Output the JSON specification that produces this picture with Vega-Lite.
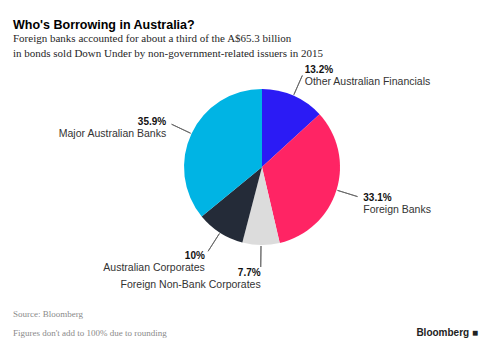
{
  "$schema": "https://vega.github.io/schema/vega-lite/v6.json",
  "width": 156,
  "height": 156,
  "autosize": {"type": "none"},
  "padding": {"left": 184, "top": 89, "right": 148, "bottom": 107},
  "background": "white",
  "config": {"view": {"stroke": null}},
  "title": {
    "text": "Who's Borrowing in Australia?",
    "subtitle": ["Foreign banks accounted for about a third of the A$65.3 billion", "in bonds sold Down Under by non-government-related issuers in 2015"],
    "anchor": "start",
    "frame": "group",
    "dx": -171,
    "offset": 6,
    "font": "Liberation Sans",
    "fontSize": 12.5,
    "fontWeight": "bold",
    "color": "#000000",
    "subtitleFont": "Liberation Serif",
    "subtitleFontSize": 11,
    "subtitleColor": "#262626",
    "subtitlePadding": 1,
    "subtitleLineHeight": 15.5
  },
  "datasets": {
    "shares": [
      {"issuer": "Other Australian Financials", "share": 0.132, "rank": 1},
      {"issuer": "Foreign Banks", "share": 0.331, "rank": 2},
      {"issuer": "Foreign Non-Bank Corporates", "share": 0.077, "rank": 3},
      {"issuer": "Australian Corporates", "share": 0.10, "rank": 4},
      {"issuer": "Major Australian Banks", "share": 0.359, "rank": 5}
    ],
    "source": [{"note": "Source: Bloomberg"}],
    "footnote": [{"note": "Figures don't add to 100% due to rounding"}],
    "logo": [{"note": "Bloomberg ■"}]
  },
  "layer": [
    {
      "data": {"name": "shares"},
      "encoding": {
        "theta": {"field": "share", "type": "quantitative", "stack": true},
        "order": {"field": "rank", "type": "quantitative"}
      },
      "layer": [
        {
          "mark": {"type": "arc"},
          "encoding": {
            "color": {
              "field": "issuer",
              "type": "nominal",
              "scale": {
                "domain": ["Other Australian Financials", "Foreign Banks", "Foreign Non-Bank Corporates", "Australian Corporates", "Major Australian Banks"],
                "range": ["#2b1bf5", "#ff2464", "#dcdcdc", "#242b38", "#00b4e4"]
              },
              "legend": null
            }
          }
        },
        {
          "mark": {"type": "arc", "radius": 100, "radius2": 79, "padAngle": 3.14, "filled": false, "stroke": "#666666", "strokeWidth": 0.9}
        },
        {
          "mark": {
            "type": "text",
            "radius": 106,
            "font": "Liberation Sans",
            "fontWeight": "bold",
            "fontSize": 10,
            "fill": "#111111",
            "baseline": "middle",
            "align": {"expr": "datum.share_start + datum.share_end < 0.999 ? 'left' : 'right'"}
          },
          "encoding": {"text": {"field": "share", "type": "quantitative", "format": ".1~%"}}
        },
        {
          "mark": {
            "type": "text",
            "radius": 106,
            "dy": 12,
            "font": "Liberation Sans",
            "fontSize": 10.5,
            "fill": "#333333",
            "baseline": "middle",
            "align": {"expr": "datum.share_start + datum.share_end < 0.999 ? 'left' : 'right'"}
          },
          "encoding": {"text": {"field": "issuer", "type": "nominal"}}
        }
      ]
    },
    {
      "data": {"name": "source"},
      "mark": {"type": "text", "align": "left", "baseline": "alphabetic", "font": "Liberation Serif", "fontSize": 9, "fill": "#8a8a8a"},
      "encoding": {"text": {"field": "note"}, "x": {"value": -171}, "y": {"value": 228}}
    },
    {
      "data": {"name": "footnote"},
      "mark": {"type": "text", "align": "left", "baseline": "alphabetic", "font": "Liberation Serif", "fontSize": 9, "fill": "#8a8a8a"},
      "encoding": {"text": {"field": "note"}, "x": {"value": -171}, "y": {"value": 247}}
    },
    {
      "data": {"name": "logo"},
      "mark": {"type": "text", "align": "right", "baseline": "alphabetic", "font": "Liberation Sans", "fontWeight": "bold", "fontSize": 10, "fill": "#222222"},
      "encoding": {"text": {"field": "note"}, "x": {"value": 294}, "y": {"value": 247}}
    }
  ]
}
